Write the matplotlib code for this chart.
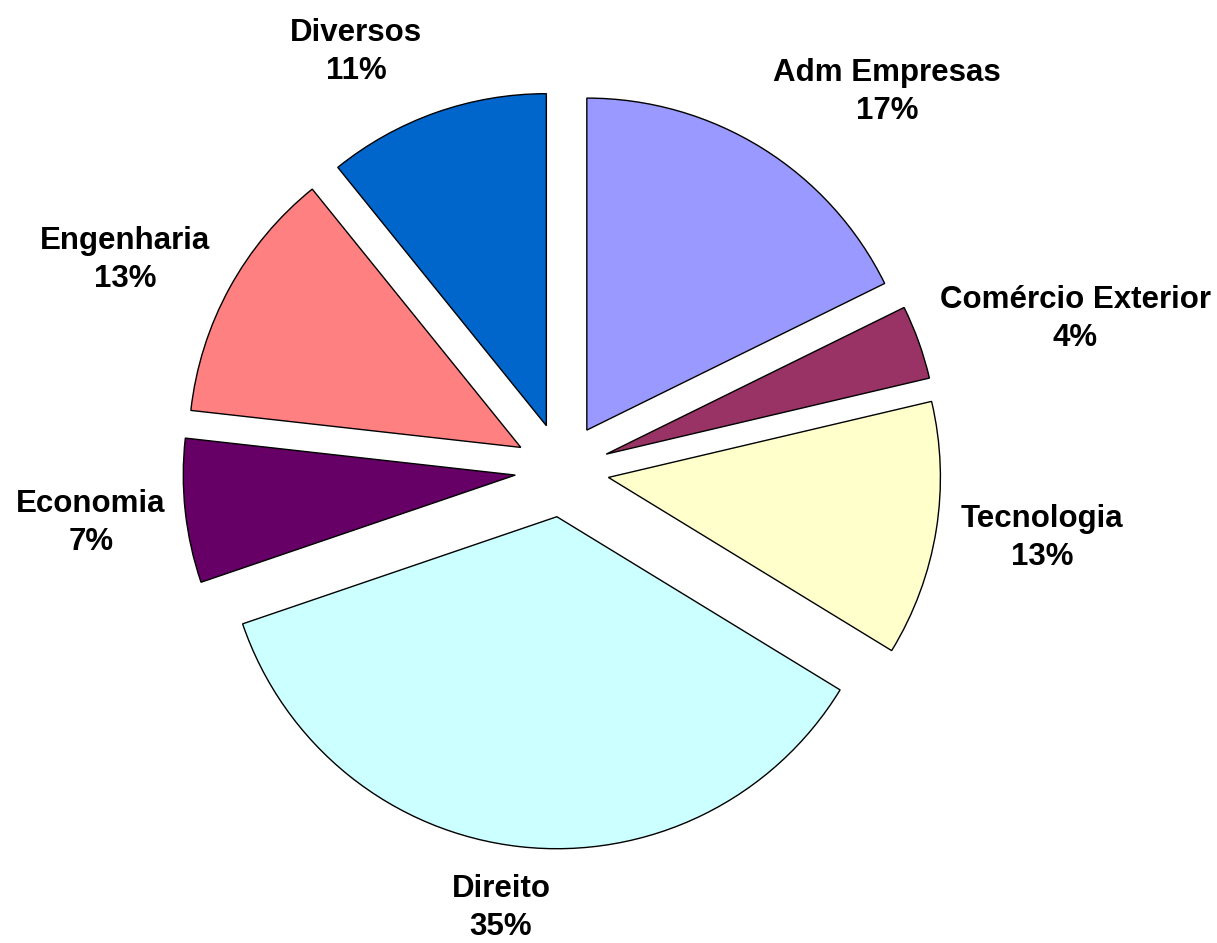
import matplotlib.pyplot as plt

# course shares, clockwise from 12 o'clock (wedge sizes as drawn)
cursos = ['Adm Empresas', 'Comércio Exterior', 'Tecnologia', 'Direito',
          'Economia', 'Engenharia', 'Diversos']
valores = [17.7, 3.6, 12.4, 36.0, 7.0, 12.4, 10.8]
# percentages as printed on the chart
rotulos_pct = ['17%', '4%', '13%', '35%', '7%', '13%', '11%']
cores = ['#9999FF', '#993366', '#FFFFCC', '#CCFFFF',
         '#660066', '#FF8080', '#0066CC']

# label centres in pixels (x, y from top)
pos_rotulos = [(887, 92), (1075, 319), (1042, 538), (501, 908),
               (91, 523), (125, 260), (356, 52)]

W, H = 1217, 943
raio = 332
fig = plt.figure(figsize=(W / 100, H / 100), dpi=100)
ax = fig.add_axes([0, 0, 1, 1])

# explode is in data units when radius != 1
ax.pie(valores, colors=cores, startangle=90, counterclock=False,
       explode=[47] * len(valores), radius=raio,
       center=(562, H - 470),
       wedgeprops=dict(edgecolor='black', linewidth=1.0))

for nome, pct, (x, y) in zip(cursos, rotulos_pct, pos_rotulos):
    ax.text(x, H - y, f'{nome}\n{pct}', ha='center', va='center',
            fontsize=22.5, fontweight='bold', family='Liberation Sans',
            linespacing=1.33)

ax.set_xlim(0, W)
ax.set_ylim(0, H)
ax.axis('off')

fig.savefig('out.png', dpi=100)
